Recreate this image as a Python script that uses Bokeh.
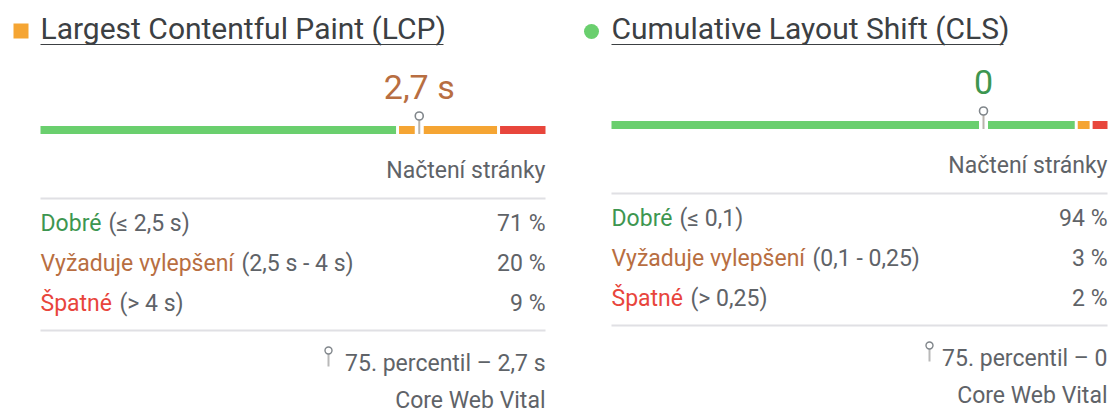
from bokeh.plotting import figure
from bokeh.models import ColumnDataSource, Range1d
from bokeh.core.properties import value
from bokeh.embed import file_html
from bokeh.resources import INLINE

# ---------------- data ----------------
metrics = ["Largest Contentful Paint (LCP)", "Cumulative Layout Shift (CLS)"]
metric_status = ["average", "fast"]
p75_values = ["2,7 s", "0"]
percentile = 75
good_pct = [71, 94]
ni_pct = [20, 3]
poor_pct = [9, 2]
category_names = ["Dobré", "Vyžaduje vylepšení", "Špatné"]
good_ranges = ["(≤ 2,5 s)", "(≤ 0,1)"]
ni_ranges = ["(2,5 s - 4 s)", "(0,1 - 0,25)"]
poor_ranges = ["(> 4 s)", "(> 0,25)"]
section_label = "Načtení stránky"
footer_label = "Core Web Vital"
percentile_labels = ["75. percentil – 2,7 s", "75. percentil – 0"]

# ---------------- style / layout ----------------
FONT = value("Roboto")
C_GREEN_BAR = "#6acf6e"
C_ORANGE_BAR = "#f5a533"
C_RED_BAR = "#e8463c"
C_GREEN_TXT = "#3d9650"
C_ORANGE_TXT = "#b86e41"
C_RED_TXT = "#e8453c"
C_TITLE = "#3c4043"
C_GRAY = "#5f6368"
C_LINE = "#e0e0e4"
status_text_color = {"fast": C_GREEN_TXT, "average": C_ORANGE_TXT, "slow": C_RED_TXT}
status_icon_color = {"fast": C_GREEN_BAR, "average": C_ORANGE_BAR, "slow": C_RED_BAR}

panel_x0 = [40, 611]
panel_x1 = [545, 1107]
panel_dy = [0, -5]
title_widths = [403, 392]
range_offsets = [68, 201, 79]
pin_x = [328, 929]
GAP = 3.0
BODY = "23px"
OFF_BODY = 8.5
OFF_TITLE = 12.5
OFF_VALUE = 15

W, H = 1109, 413
p = figure(width=W, height=H, x_range=Range1d(0, W), y_range=Range1d(H, 0),
           output_backend="svg", toolbar_location=None, min_border=0,
           background_fill_color="white", border_fill_color="white")
p.outline_line_color = None
p.xaxis.visible = False
p.yaxis.visible = False
p.xgrid.visible = False
p.ygrid.visible = False


def txt(x, y, texts, color, size, align="left", off=OFF_BODY):
    src = ColumnDataSource(dict(x=x, y=[v - off for v in y], t=texts))
    p.text(x="x", y="y", text="t", source=src, text_color=color,
           text_font=FONT, text_font_size=size, text_align=align,
           text_baseline="alphabetic")


for i in range(2):
    x0, x1, dy = panel_x0[i], panel_x1[i], panel_dy[i]
    width = x1 - x0
    st = metric_status[i]

    # legend icon
    if st == "fast":
        p.scatter([x0 - 20], [31], marker="circle", size=15,
                  fill_color=status_icon_color[st], line_color=None)
    else:
        p.scatter([x0 - 19.5], [30.5], marker="square", size=15,
                  fill_color=status_icon_color[st], line_color=None)

    # title + underline
    txt([x0], [40], [metrics[i]], C_TITLE, "30px", off=OFF_TITLE)
    p.segment(x0=[x0], y0=[44], x1=[x0 + title_widths[i]], y1=[44],
              line_color=C_TITLE, line_width=1.2)

    # distribution bar
    b1 = x0 + width * good_pct[i] / 100
    b2 = b1 + width * ni_pct[i] / 100
    bar_src = ColumnDataSource(dict(
        left=[x0, b1, b2], right=[b1 - GAP, b2 - GAP, x1],
        color=[C_GREEN_BAR, C_ORANGE_BAR, C_RED_BAR]))
    yt, yb = 125.5 + dy, 133.5 + dy
    p.quad(left="left", right="right", top=yt, bottom=yb, source=bar_src,
           fill_color="color", line_color=None)

    # percentile marker
    mx = x0 + width * percentile / 100
    p.quad(left=[mx - 4.5], right=[mx + 4.5], top=[yt - 1], bottom=[yb + 1],
           fill_color="white", line_color=None)
    p.segment(x0=[mx], y0=[119.5 + dy], x1=[mx], y1=[yb], line_color="#b9b4ad",
              line_width=2)
    p.scatter([mx], [115.5 + dy], marker="circle", size=8, fill_color="white",
              line_color="#80868b", line_width=1.6)

    # p75 value
    txt([mx], [101.5 + dy], [p75_values[i]], status_text_color[st], "34px", "center",
        off=OFF_VALUE)

    # section label + separators
    txt([x1], [178 + dy], [section_label], C_GRAY, BODY, "right")
    p.segment(x0=[x0, x0], y0=[198 + dy, 330 + dy], x1=[x1, x1],
              y1=[198 + dy, 330 + dy], line_color=C_LINE, line_width=2)

    # rows
    rows_y = [231 + dy, 271 + dy, 311 + dy]
    txt([x0], [rows_y[0]], [category_names[0]], C_GREEN_TXT, BODY)
    txt([x0], [rows_y[1]], [category_names[1]], C_ORANGE_TXT, BODY)
    txt([x0], [rows_y[2]], [category_names[2]], C_RED_TXT, BODY)
    txt([x0 + range_offsets[0], x0 + range_offsets[1], x0 + range_offsets[2]], rows_y,
        [good_ranges[i], ni_ranges[i], poor_ranges[i]], C_GRAY, BODY)
    txt([x1, x1, x1], rows_y,
        [f"{good_pct[i]} %", f"{ni_pct[i]} %", f"{poor_pct[i]} %"], C_GRAY, BODY, "right")

    # footer
    txt([x1], [371 + dy], [percentile_labels[i]], C_GRAY, BODY, "right")
    px = pin_x[i]
    p.segment(x0=[px], y0=[353 + dy], x1=[px], y1=[366 + dy], line_color="#b9b9b9",
              line_width=2)
    p.scatter([px], [350 + dy], marker="circle", size=7, fill_color="white",
              line_color="#80868b", line_width=1.4)
    txt([x1], [408 + dy], [footer_label], C_GRAY, BODY, "right")

open("out.html", "w").write(file_html(p, INLINE))
